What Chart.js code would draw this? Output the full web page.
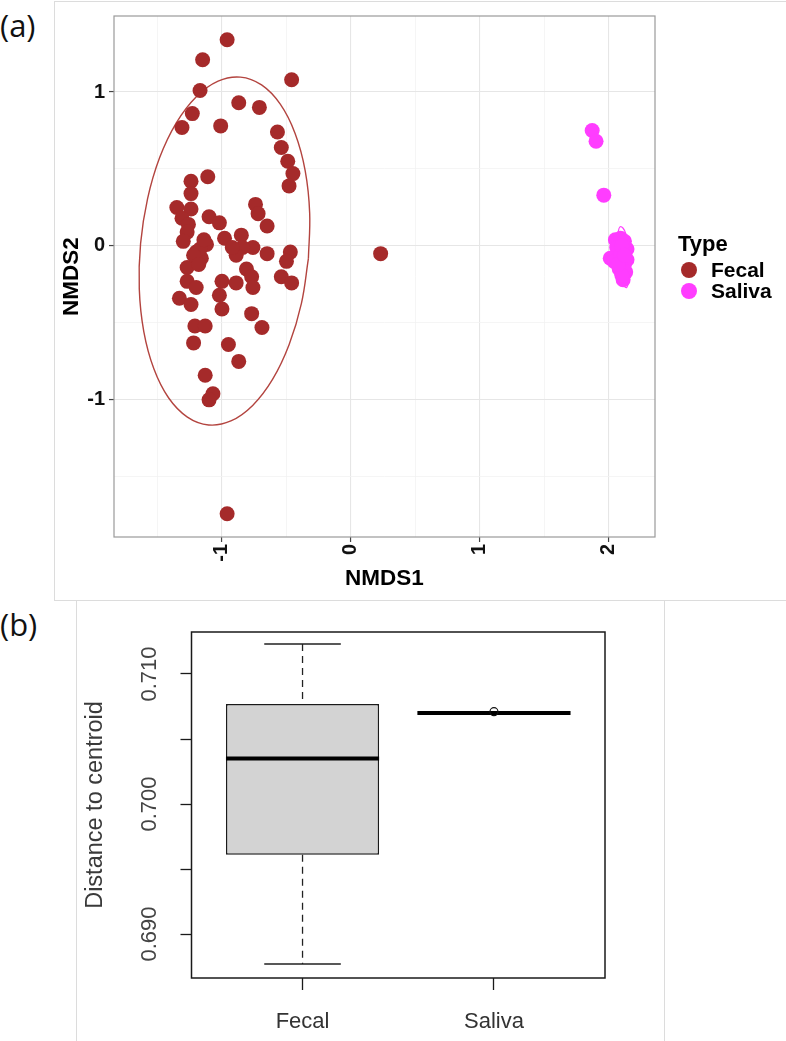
<!DOCTYPE html>
<html>
<head>
<meta charset="utf-8">
<script src="https://cdn.jsdelivr.net/npm/chart.js@4.4.1/dist/chart.umd.min.js"></script>
<style>
  html, body { margin: 0; padding: 0; background: #fff; }
  body { width: 786px; height: 1041px; position: relative; overflow: hidden; font-family: 'Liberation Sans', Arial, sans-serif; }
  .frame-box { position: absolute; box-sizing: border-box; }
  #boxA { left: 54px; top: 1px; width: 760px; height: 600px; border: 1px solid #dcdcdc; }
  #boxB { left: 76px; top: 600px; width: 589px; height: 460px; border-left: 1px solid #dcdcdc; border-right: 1px solid #dcdcdc; }
  .tag { position: absolute; left: 0; font-family: 'Open Sans', 'Noto Sans', sans-serif; font-size: 31px; line-height: 1; color: #111; }
  #nmds { position: absolute; left: 0; top: 0; }
  #dispersion { position: absolute; left: 76px; top: 600px; }
  #legend { position: absolute; left: 678px; top: 231px; font-weight: bold; color: #000; }
  #legend .title { font-size: 22px; line-height: 25px; margin-bottom: 3px; }
  #legend .row { display: flex; align-items: center; font-size: 21px; line-height: 22px; height: 21px; }
  #legend .dot { width: 16px; height: 16px; border-radius: 50%; margin: 0 14px 0 3px; }
</style>
</head>
<body>
<div class="frame-box" id="boxA"></div>
<div class="frame-box" id="boxB"></div>
<div class="tag" style="top:10px">(a)</div>
<div class="tag" style="top:609px">(b)</div>
<canvas id="nmds" width="786" height="600"></canvas>
<canvas id="dispersion" width="588" height="441"></canvas>
<div id="legend">
  <div class="title">Type</div>
  <div class="row"><span class="dot" id="dotFecal"></span>Fecal</div>
  <div class="row"><span class="dot" id="dotSaliva"></span>Saliva</div>
</div>
<script>
// ---- panel (a): NMDS ordination ----
const FECAL_X = [
  -0.96, -1.15, -0.46, -1.17, -0.87, -0.71, -1.23, -1.31, -1.01, -0.57,
  -0.54, -0.49, -0.45, -0.48, -1.11, -1.24, -1.24, -1.35, -1.24, -1.31,
  -1.26, -1.27, -1.30, -1.10, -1.02, -0.98, -0.74, -0.72, -0.65, -0.85,
  -0.76, -0.65, -0.84, -0.89, -0.47, -0.50, -1.12, -1.20, -1.16, -1.27,
  -0.81, -0.77, -0.54, -0.46, -1.27, -1.20, -1.00, -0.89, -0.76, -1.02,
  -1.33, -1.24, -1.00, -0.77, -1.21, -1.13, -0.69, -1.22, -0.95, -0.87,
  -1.13, -1.07, -1.10, -0.96, 0.23, -1.17, -1.14, -0.92, -1.22, -1.18
];
const FECAL_Y = [
  1.34, 1.21, 1.08, 1.01, 0.93, 0.90, 0.86, 0.77, 0.78, 0.74,
  0.64, 0.55, 0.47, 0.39, 0.45, 0.42, 0.34, 0.25, 0.24, 0.18,
  0.14, 0.09, 0.03, 0.19, 0.15, 0.05, 0.27, 0.21, 0.13, 0.07,
  -0.01, -0.05, -0.01, -0.06, -0.04, -0.10, 0.01, -0.04, -0.08, -0.14,
  -0.15, -0.20, -0.20, -0.24, -0.23, -0.27, -0.23, -0.24, -0.27, -0.32,
  -0.34, -0.38, -0.41, -0.44, -0.52, -0.52, -0.53, -0.63, -0.64, -0.75,
  -0.84, -0.96, -1.00, -1.74, -0.05, -0.02, 0.04, -0.01, -0.06, -0.12
];
const SALIVA_X = [1.87, 1.90, 1.96, 2.05, 2.09, 2.12, 2.14, 2.14, 2.06, 2.01, 2.04, 2.09, 2.12, 2.08, 2.13, 2.11, 2.10, 2.07, 2.10, 2.12];
const SALIVA_Y = [0.75, 0.68, 0.33, 0.04, 0.05, 0.03, -0.02, -0.09, -0.01, -0.08, -0.10, -0.06, -0.12, -0.15, -0.17, -0.22, -0.19, -0.12, 0.00, -0.06];

// 95% ellipse outlines (clockwise, starting on the flat right side)
const FECAL_ELLIPSE_X = [-0.330, -0.384, -0.479, -0.608, -0.762, -0.931, -1.104, -1.268, -1.413, -1.528, -1.606, -1.641,
                         -1.631, -1.577, -1.483, -1.354, -1.199, -1.030, -0.857, -0.693, -0.548, -0.433, -0.355, -0.320];
const FECAL_ELLIPSE_Y = [-0.082, -0.373, -0.640, -0.867, -1.036, -1.137, -1.163, -1.112, -0.988, -0.798, -0.556, -0.279,
                         0.015, 0.306, 0.574, 0.800, 0.970, 1.071, 1.097, 1.046, 0.921, 0.731, 0.490, 0.212];
const SALIVA_ELLIPSE_X = [2.16, 2.155, 2.137, 2.115, 2.09, 2.07, 2.063, 2.065, 2.072, 2.085, 2.11, 2.13, 2.145, 2.155];
const SALIVA_ELLIPSE_Y = [-0.14, -0.22, -0.27, -0.26, -0.22, -0.14, -0.06, 0.02, 0.09, 0.124, 0.115, 0.08, 0.02, -0.06];

const NMDS1_TICKS = [-1.5, -1, -0.5, 0, 0.5, 1, 1.5, 2];
const NMDS2_TICKS = [-1.5, -1, -0.5, 0, 0.5, 1];

// ---- panel (b): distance to centroid ----
const GROUPS = ['Fecal', 'Saliva'];
const LOWER_WHISKER = [0.6877, 0.7070];
const Q1 = [0.6961, 0.7070];
const MEDIANS = [0.7035, 0.7070];
const Q3 = [0.7077, 0.7070];
const UPPER_WHISKER = [0.7123, 0.7070];
const OUTLIERS = [[], [0.7071]];
const DIST_TICKS = [0.690, 0.695, 0.700, 0.705, 0.710];
const DIST_LABELS = ['0.690', '', '0.700', '', '0.710'];

const FECAL_COLOR = '#a52a2a';
const SALIVA_COLOR = '#ff3dff';
const BOX_WEX = 0.8;     // box width, as a share of group spacing
const STAPLE_WEX = 0.5;  // whisker cap width, as a share of box width

document.getElementById('dotFecal').style.background = FECAL_COLOR;
document.getElementById('dotSaliva').style.background = SALIVA_COLOR;

function toPoints(xs, ys) {
    return xs.map((x, i) => ({ x: x, y: ys[i] }));
}

function closedLoop(xs, ys) {
    const pts = toPoints(xs, ys);
    pts.push({ x: xs[0], y: ys[0] });
    return pts;
}

function hasFont(name) {
    const c = document.createElement('canvas').getContext('2d');
    const sample = 'Fecal Saliva 0.710';
    c.font = '40px monospace';
    const a = c.measureText(sample).width;
    c.font = '40px "' + name + '", monospace';
    return c.measureText(sample).width !== a;
}

// draws the panel border round the plotting area
const frame = {
    id: 'frame',
    afterDatasetsDraw(chart, args, opts) {
        const { ctx, chartArea: a } = chart;
        ctx.save();
        ctx.strokeStyle = opts.color;
        ctx.lineWidth = opts.width;
        ctx.strokeRect(a.left, a.top, a.right - a.left, a.bottom - a.top);
        ctx.restore();
    }
};

const ggFont = "'Liberation Sans', Arial, sans-serif";
const isMajor = c => c.tick && Number.isInteger(c.tick.value);

new Chart(document.getElementById('nmds'), {
    type: 'scatter',
    data: {
        datasets: [
            { label: 'Fecal', data: toPoints(FECAL_X, FECAL_Y), backgroundColor: FECAL_COLOR, borderWidth: 0, pointRadius: 7.5, order: 1 },
            { label: 'Saliva', data: toPoints(SALIVA_X, SALIVA_Y), backgroundColor: SALIVA_COLOR, borderWidth: 0, pointRadius: 7.5, order: 0 },
            { label: 'Fecal ellipse', data: closedLoop(FECAL_ELLIPSE_X, FECAL_ELLIPSE_Y), showLine: true, pointRadius: 0, borderColor: '#b3443f', borderWidth: 1.4, tension: 0.4, fill: false, order: 2 },
            { label: 'Saliva ellipse', data: closedLoop(SALIVA_ELLIPSE_X, SALIVA_ELLIPSE_Y), showLine: true, pointRadius: 0, borderColor: SALIVA_COLOR, borderWidth: 1.2, tension: 0.4, fill: false, order: 3 }
        ]
    },
    options: {
        responsive: false,
        animation: false,
        events: [],
        layout: { padding: { left: 56, top: 9, right: 131, bottom: 0 } },
        plugins: {
            legend: { display: false },
            tooltip: { enabled: false },
            frame: { color: '#9a9a9a', width: 1.2 }
        },
        scales: {
            x: {
                type: 'linear',
                min: -1.837,
                max: 2.357,
                afterBuildTicks: s => { s.ticks = NMDS1_TICKS.map(v => ({ value: v })); },
                afterFit: s => { s.height = 63; },
                border: { display: false },
                grid: {
                    color: c => isMajor(c) ? '#e6e6e6' : '#f2f2f2',
                    lineWidth: c => isMajor(c) ? 1.1 : 0.8,
                    tickLength: 5,
                    tickColor: c => isMajor(c) ? '#444' : 'rgba(0,0,0,0)',
                    tickWidth: 1.2
                },
                ticks: {
                    autoSkip: false,
                    minRotation: 90,
                    maxRotation: 90,
                    padding: 2,
                    color: '#111',
                    font: { family: ggFont, size: 20, weight: 'bold' },
                    callback: v => Number.isInteger(v) ? String(v) : ''
                },
                title: { display: true, text: 'NMDS1', color: '#000', font: { family: ggFont, size: 22.5, weight: 'bold' }, padding: { top: 0, bottom: 8 } }
            },
            y: {
                type: 'linear',
                min: -1.891,
                max: 1.494,
                afterBuildTicks: s => { s.ticks = NMDS2_TICKS.map(v => ({ value: v })); },
                afterFit: s => { s.width = 58; },
                border: { display: false },
                grid: {
                    color: c => isMajor(c) ? '#e6e6e6' : '#f2f2f2',
                    lineWidth: c => isMajor(c) ? 1.1 : 0.8,
                    tickLength: 5,
                    tickColor: c => isMajor(c) ? '#444' : 'rgba(0,0,0,0)',
                    tickWidth: 1.2
                },
                ticks: {
                    autoSkip: false,
                    padding: 4,
                    color: '#111',
                    font: { family: ggFont, size: 20, weight: 'bold' },
                    callback: v => Number.isInteger(v) ? String(v) : ''
                },
                title: { display: true, text: 'NMDS2', color: '#000', font: { family: ggFont, size: 22.5, weight: 'bold' }, padding: { top: 2, bottom: 0 } }
            }
        }
    },
    plugins: [frame]
});

// ---- panel (b) ----
const narrow = hasFont('Liberation Sans Narrow');
const rFont = narrow ? "'Liberation Sans Narrow', 'Liberation Sans', sans-serif" : "'Liberation Sans', Arial, sans-serif";
const rTickSize = narrow ? 26 : 22;
const rTitleSize = narrow ? 27 : 23.5;

function measure(text, size) {
    const c = document.createElement('canvas').getContext('2d');
    c.font = size + 'px ' + rFont;
    return c.measureText(text).width;
}

const yTickLen = 11;
// keep the rotated labels centred ~41px left of the axis
const yLabelPad = 115.5 - yTickLen - measure('0.690', rTickSize) / 2 - 74;

const whiskerPts = [];
const staplePts = [];
const medianPts = [];
const outlierPts = [];
GROUPS.forEach((g, i) => {
    const x = i + 1;
    const half = BOX_WEX / 2;
    const cap = BOX_WEX * STAPLE_WEX / 2;
    whiskerPts.push({ x: x, y: UPPER_WHISKER[i] }, { x: x, y: Q3[i] }, { x: x, y: null },
                    { x: x, y: Q1[i] }, { x: x, y: LOWER_WHISKER[i] }, { x: x, y: null });
    staplePts.push({ x: x - cap, y: UPPER_WHISKER[i] }, { x: x + cap, y: UPPER_WHISKER[i] }, { x: x, y: null },
                   { x: x - cap, y: LOWER_WHISKER[i] }, { x: x + cap, y: LOWER_WHISKER[i] }, { x: x, y: null });
    medianPts.push({ x: x - half, y: MEDIANS[i] }, { x: x + half, y: MEDIANS[i] }, { x: x, y: null });
    OUTLIERS[i].forEach(v => outlierPts.push({ x: x, y: v }));
});

new Chart(document.getElementById('dispersion'), {
    type: 'bar',
    data: {
        datasets: [
            {
                type: 'bar', label: 'IQR',
                data: GROUPS.map((g, i) => ({ x: i + 1, y: [Q1[i], Q3[i]] })),
                backgroundColor: '#d3d3d3', borderColor: '#1a1a1a', borderWidth: 1.5, borderSkipped: false,
                categoryPercentage: 1, barPercentage: BOX_WEX, order: 4
            },
            { type: 'line', label: 'Whiskers', data: whiskerPts, borderColor: '#222', borderWidth: 1.3, borderDash: [7, 5], pointRadius: 0, spanGaps: false, order: 3 },
            { type: 'line', label: 'Staples', data: staplePts, borderColor: '#222', borderWidth: 1.5, pointRadius: 0, spanGaps: false, order: 2 },
            { type: 'line', label: 'Median', data: medianPts, borderColor: '#000', borderWidth: 4, borderCapStyle: 'butt', pointRadius: 0, spanGaps: false, order: 1 },
            { type: 'scatter', label: 'Outliers', data: outlierPts, pointStyle: 'circle', pointRadius: 4, backgroundColor: 'rgba(0,0,0,0)', borderColor: '#111', borderWidth: 1.2, order: 0 }
        ]
    },
    options: {
        responsive: false,
        animation: false,
        events: [],
        layout: { padding: { left: 4, top: 32, right: 59, bottom: 0 } },
        plugins: {
            legend: { display: false },
            tooltip: { enabled: false },
            frame: { color: '#1a1a1a', width: 1.5 }
        },
        scales: {
            x: {
                type: 'linear',
                min: 0.42,
                max: 2.58,
                offset: false,
                afterBuildTicks: s => { s.ticks = GROUPS.map((g, i) => ({ value: i + 1 })); },
                afterFit: s => { s.height = 63; },
                border: { display: false },
                grid: { display: true, offset: false, drawOnChartArea: false, drawTicks: true, tickLength: 12, tickColor: '#1a1a1a', tickWidth: 1.3 },
                ticks: {
                    autoSkip: false, maxRotation: 0, padding: 19, color: '#333',
                    font: { family: rFont, size: rTickSize },
                    callback: v => GROUPS[v - 1]
                }
            },
            y: {
                type: 'linear',
                min: 0.68662,
                max: 0.71323,
                beginAtZero: false,
                afterBuildTicks: s => { s.ticks = DIST_TICKS.map(v => ({ value: v })); },
                afterFit: s => { s.width = 111.5; },
                border: { display: false },
                grid: { display: true, drawOnChartArea: false, drawTicks: true, tickLength: yTickLen, tickColor: '#1a1a1a', tickWidth: 1.3 },
                ticks: {
                    autoSkip: false, minRotation: 90, maxRotation: 90, crossAlign: 'center',
                    padding: yLabelPad, color: '#444',
                    font: { family: rFont, size: rTickSize },
                    callback: (v, i) => DIST_LABELS[i]
                },
                title: { display: true, text: 'Distance to centroid', color: '#3a3a3a', font: { family: rFont, size: rTitleSize }, padding: { top: 1, bottom: 0 } }
            }
        }
    },
    plugins: [frame]
});
</script>
</body>
</html>
